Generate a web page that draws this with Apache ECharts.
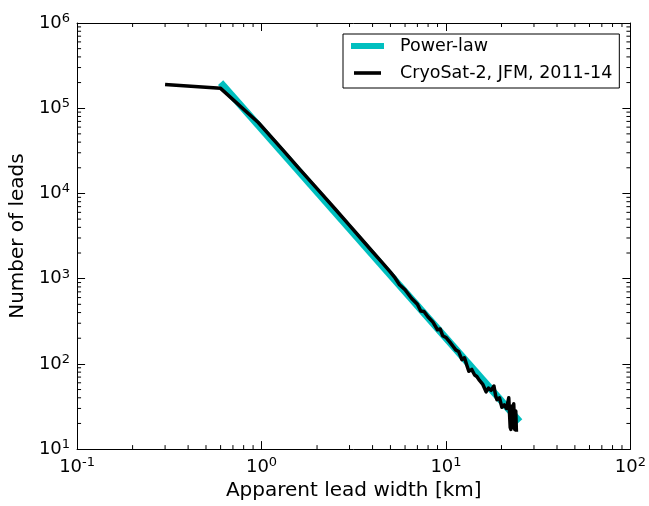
<!DOCTYPE html>
<html>
<head>
<meta charset="utf-8">
<script src="https://cdn.jsdelivr.net/npm/echarts@6/dist/echarts.min.js"></script>
<style>html,body{margin:0;padding:0;background:#fff}#c{width:649px;height:506px}</style>
</head>
<body>
<div id="c"></div>
<script>
// Observed data (CryoSat-2, JFM, 2011-14)
var leadWidth = [0.30, 0.60, 0.96, 1.3, 1.6, 2.0, 2.5, 3.0, 3.5, 4.0, 4.5, 5.0, 5.3, 5.6, 6.0, 6.5, 7.0, 7.3, 7.6, 8.0, 8.5, 9.0, 9.3, 9.6, 10.0,
  10.5, 11.0, 11.3, 11.7, 12.2, 12.6, 13.0, 13.3, 13.8, 14.3, 14.7, 15.2, 15.8, 16.5, 17.0, 17.6, 18.2, 18.6, 18.9, 19.5, 20.1, 20.7, 21.3, 21.9, 22.3, 22.5, 22.8, 23.1, 23.3, 23.6, 23.9, 24.1];
var leadCount = [190000, 171000, 68000, 32700, 19600, 11400, 6610, 4220, 2880, 2070, 1550, 1190, 1020, 850, 741, 589, 501, 417, 412, 355, 309, 251, 257, 214, 204,
  180, 158, 146, 140, 112, 118, 95, 82, 86, 74, 71, 64, 58, 47, 52, 49, 55, 42, 38, 40, 31, 33, 30, 40, 18, 17, 32, 18, 34, 17, 28, 16];
// Power-law fit line
var powerWidth = [0.6, 25.1];
var powerCount = [200000, 21];
// Axis ticks
var xMinor = [0.2,0.3,0.4,0.5,0.6,0.7,0.8,0.9,2,3,4,5,6,7,8,9,20,30,40,50,60,70,80,90];
var yMinor = [20,30,40,50,60,70,80,90,200,300,400,500,600,700,800,900,2000,3000,4000,5000,6000,7000,8000,9000,
  20000,30000,40000,50000,60000,70000,80000,90000,200000,300000,400000,500000,600000,700000,800000,900000];
var xMin = 0.1, xMax = 100, yMin = 10, yMax = 1e6;

var FONT = 'DejaVu Sans';
function pow10Label(v){
  var e = Math.round(Math.log10(v));
  return '{b|10}{s|' + e + '}';
}
var richLab = {
  b: {fontFamily: FONT, fontSize: 18, color: '#000'},
  s: {fontFamily: FONT, fontSize: 13, color: '#000', verticalAlign: 'bottom', padding: [0,0,9,0]}
};

var chart = echarts.init(document.getElementById('c'), null, {renderer: 'canvas'});
var axisLineStyle = {lineStyle: {color: '#000', width: 1}};
var option = {
  animation: false,
  backgroundColor: '#fff',
  grid: {left: 77, right: 18, top: 23, bottom: 53, containLabel: false},
  legend: {
    left: 343, top: 34, orient: 'vertical',
    backgroundColor: '#fff', borderColor: '#000', borderWidth: 1, borderRadius: 0,
    padding: [3, 7, 6, 8], itemGap: 9, itemWidth: 33, itemHeight: 6,
    textStyle: {fontFamily: FONT, fontSize: 17.5, color: '#000', padding: [0,0,0,11]},
    data: [
      {name: 'Power-law', icon: 'rect', itemStyle: {color: '#00bfbf'}},
      {name: 'CryoSat-2, JFM, 2011-14', icon: 'path://M0,0M33,6M3,1.2h27v3.6h-27z', itemStyle: {color: '#000'}}
    ]
  },
  xAxis: [{
    type: 'log', logBase: 10, min: xMin, max: xMax,
    name: 'Apparent lead width [km]', nameLocation: 'middle', nameGap: 30,
    nameTextStyle: {fontFamily: FONT, fontSize: 20, color: '#000'},
    axisLine: axisLineStyle,
    axisTick: {inside: true, length: 8, lineStyle: {color: '#000'}},
    axisLabel: {margin: 7, formatter: pow10Label, rich: richLab},
    splitLine: {show: false}
  }, {
    type: 'log', logBase: 10, min: xMin, max: xMax, position: 'top',
    axisLine: axisLineStyle,
    axisTick: {inside: true, length: 8, lineStyle: {color: '#000'}},
    axisLabel: {show: false}, splitLine: {show: false}
  }],
  yAxis: [{
    type: 'log', logBase: 10, min: yMin, max: yMax,
    name: 'Number of leads', nameLocation: 'middle', nameGap: 49,
    nameTextStyle: {fontFamily: FONT, fontSize: 20, color: '#000'},
    axisLine: axisLineStyle,
    axisTick: {inside: true, length: 8, lineStyle: {color: '#000'}},
    axisLabel: {margin: 7, formatter: pow10Label, rich: richLab},
    splitLine: {show: false}
  }, {
    type: 'log', logBase: 10, min: yMin, max: yMax, position: 'right',
    axisLine: axisLineStyle,
    axisTick: {inside: true, length: 8, lineStyle: {color: '#000'}},
    axisLabel: {show: false}, splitLine: {show: false}
  }],
  series: [
    {
      name: 'Power-law', type: 'line', showSymbol: false, symbol: 'none',
      data: powerWidth.map(function(x, i){ return [x, powerCount[i]]; }),
      lineStyle: {color: '#00bfbf', width: 7, cap: 'butt'}, itemStyle: {color: '#00bfbf'}, z: 2
    },
    {
      name: 'CryoSat-2, JFM, 2011-14', type: 'line', showSymbol: false, symbol: 'none',
      data: leadWidth.map(function(x, i){ return [x, leadCount[i]]; }),
      lineStyle: {color: '#000', width: 3.5, join: 'round'}, itemStyle: {color: '#000'}, z: 3
    },
    {
      type: 'custom', silent: true, clip: false, z: 5,
      data: xMinor.map(function(v){ return [v, yMin]; }),
      renderItem: function(params, api){
        var b = api.coord([api.value(0), yMin]);
        var t = api.coord([api.value(0), yMax]);
        return {type: 'group', children: [
          {type: 'line', shape: {x1: b[0], y1: b[1], x2: b[0], y2: b[1]-4}, style: {stroke: '#000', lineWidth: 1}},
          {type: 'line', shape: {x1: t[0], y1: t[1], x2: t[0], y2: t[1]+4}, style: {stroke: '#000', lineWidth: 1}}
        ]};
      }
    },
    {
      type: 'custom', silent: true, clip: false, z: 5,
      data: yMinor.map(function(v){ return [xMin, v]; }),
      renderItem: function(params, api){
        var l = api.coord([xMin, api.value(1)]);
        var r = api.coord([xMax, api.value(1)]);
        return {type: 'group', children: [
          {type: 'line', shape: {x1: l[0], y1: l[1], x2: l[0]+4, y2: l[1]}, style: {stroke: '#000', lineWidth: 1}},
          {type: 'line', shape: {x1: r[0], y1: r[1], x2: r[0]-4, y2: r[1]}, style: {stroke: '#000', lineWidth: 1}}
        ]};
      }
    }
  ]
};
chart.setOption(option);
</script>
</body>
</html>
